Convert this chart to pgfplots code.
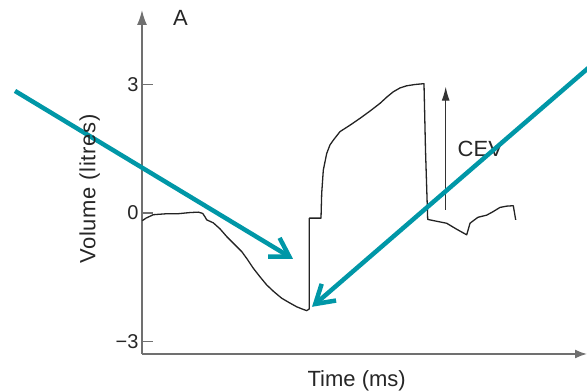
\documentclass[border=0pt]{standalone}
\usepackage{fontspec}
\setmainfont{Liberation Sans}
\usepackage{pgfplots}
\usepackage{pgfplotstable}
\pgfplotsset{compat=1.18}
\usetikzlibrary{arrows.meta}
\definecolor{tealarrow}{RGB}{0,151,167}
\definecolor{axgray}{RGB}{112,112,112}
\definecolor{curveblack}{RGB}{35,35,35}

\pgfplotstableread{
t v
142.3 -0.18
146.0 -0.12
153.3 -0.04
165.0 -0.02
176.7 -0.02
190.0 0.01
198.3 0.02
202.7 -0.01
205.0 -0.09
206.7 -0.16
213.3 -0.23
220.0 -0.37
226.7 -0.55
234.0 -0.72
241.7 -0.90
247.0 -1.07
253.3 -1.29
260.0 -1.49
266.7 -1.68
274.0 -1.84
281.7 -1.99
289.0 -2.09
296.7 -2.19
302.0 -2.24
306.7 -2.28
309.3 -2.24
309.3 -0.12
321.0 -0.12
321.7 0.46
323.3 1.00
326.7 1.39
330.0 1.59
333.3 1.70
340.0 1.90
350.0 2.05
360.0 2.21
370.0 2.38
380.0 2.56
387.0 2.71
393.3 2.83
400.0 2.92
406.7 2.97
415.0 3.00
424.0 3.02
425.5 1.47
427.7 -0.15
436.0 -0.19
446.7 -0.24
456.0 -0.37
466.7 -0.51
470.0 -0.24
473.3 -0.18
478.0 -0.10
486.7 -0.05
493.0 0.03
500.0 0.13
506.7 0.16
513.3 0.17
515.7 -0.16
}\volumedata

\begin{document}
\begin{tikzpicture}
\begin{axis}[
  scale only axis,
  width=445pt, height=344pt,
  xmin=142, xmax=587, ymin=-3.2921, ymax=4.7397,
  axis lines=left,
  axis line style={draw=axgray, line width=1.6pt},
  x axis line style={-{Latex[length=12pt,width=9pt]}},
  y axis line style={-{Latex[length=15pt,width=10pt]}},
  xtick=\empty,
  ytick={-3,0,3},
  yticklabels={−3,0,3},
  tick align=inside,
  major tick length=11pt,
  ytick style={draw=axgray, line width=1.2pt},
  tick label style={font=\fontsize{20}{24}\selectfont, text=black!85},
  xlabel={Time (ms)},
  xlabel style={at={(axis cs:356.7,-4.056)}, anchor=base, font=\fontsize{22}{26}\selectfont, text=black!85},
  ylabel={Volume (litres)},
  ylabel style={at={(axis cs:95.5,0.56)}, anchor=base, rotate=0, font=\fontsize{22}{26}\selectfont\addfontfeatures{LetterSpace=3}, text=black!85},
  clip=false,
]
\addplot[curveblack, line width=1.3pt, line join=round] table[x=t, y=v] {\volumedata};

% CEV arrow
\draw[black!80, line width=1.2pt, -{Latex[length=14pt,width=8pt]}] (axis cs:445.7,0.07) -- (axis cs:445.7,2.95);
\node[anchor=base west, inner sep=0pt, font=\fontsize{22}{26}\selectfont, text=black!85] at (axis cs:457.5,1.31) {CEV};
\node[anchor=base, inner sep=0pt, font=\fontsize{22}{26}\selectfont, text=black!85] at (axis cs:180.5,4.38) {A};

% teal annotation arrows
\draw[tealarrow, line width=4.5pt, -{Straight Barb[length=18pt,width=22pt]}] (axis cs:15,2.85) -- (axis cs:293,-1.07);
\draw[tealarrow, line width=4.5pt, -{Straight Barb[length=18pt,width=22pt]}] (axis cs:590,3.42) -- (axis cs:312,-2.19);

\coordinate (bbl) at (axis cs:0,-4.1793);
\coordinate (btr) at (axis cs:587,4.9731);
\end{axis}
\pgfresetboundingbox
\path[use as bounding box] (bbl) rectangle (btr);
\end{tikzpicture}
\end{document}
